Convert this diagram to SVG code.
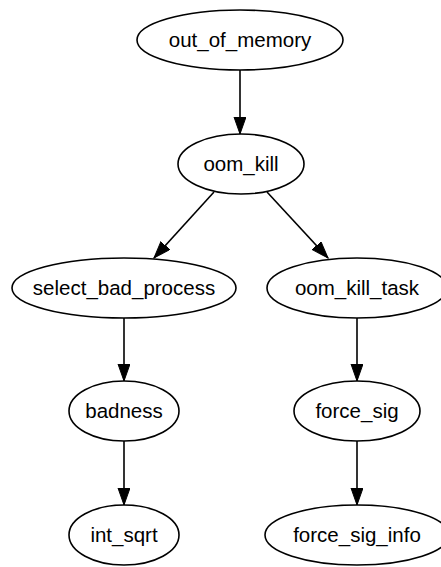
<svg xmlns="http://www.w3.org/2000/svg" width="441" height="567" viewBox="0 0 441 567">
  <defs>
    <style>
      .node ellipse { fill: #ffffff; stroke: #000000; stroke-width: 1.6; }
      .node text { font-family: "Liberation Sans", Arial, Helvetica, sans-serif; font-size: 20.5px; fill: #000000; text-anchor: middle; }
      .edge { fill: none; stroke: #000000; stroke-width: 1.6; marker-end: url(#arrow); }
    </style>
    <marker id="arrow" markerUnits="userSpaceOnUse" markerWidth="18" markerHeight="13" refX="17" refY="6" orient="auto">
      <path d="M0,0 L17,6 L0,12 Z" fill="#000000" stroke="#000000" stroke-width="1"/>
    </marker>
  </defs>
  <rect width="441" height="567" fill="#ffffff"/>

  <!-- call edges -->
  <g id="edges">
    <path class="edge" d="M240,70 L240,134"/>
    <path class="edge" d="M214,192 L154,258"/>
    <path class="edge" d="M267,192 L328,258"/>
    <path class="edge" d="M124,318 L124,381"/>
    <path class="edge" d="M357,318 L357,381"/>
    <path class="edge" d="M124,441 L124,505"/>
    <path class="edge" d="M357,441 L357,505"/>
  </g>

  <g id="out_of_memory" class="node">
    <ellipse cx="240" cy="40" rx="103" ry="30"/>
    <text x="240" y="47">out_of_memory</text>
  </g>
  <g id="oom_kill" class="node">
    <ellipse cx="241" cy="164" rx="63" ry="30"/>
    <text x="241" y="171">oom_kill</text>
  </g>
  <g id="select_bad_process" class="node">
    <ellipse cx="124" cy="288" rx="112" ry="30"/>
    <text x="124" y="295">select_bad_process</text>
  </g>
  <g id="oom_kill_task" class="node">
    <ellipse cx="357" cy="288" rx="90" ry="30"/>
    <text x="357" y="295">oom_kill_task</text>
  </g>
  <g id="badness" class="node">
    <ellipse cx="124" cy="411" rx="55" ry="30"/>
    <text x="124" y="418">badness</text>
  </g>
  <g id="force_sig" class="node">
    <ellipse cx="357" cy="411" rx="63" ry="30"/>
    <text x="357" y="418">force_sig</text>
  </g>
  <g id="int_sqrt" class="node">
    <ellipse cx="124" cy="535" rx="55" ry="30"/>
    <text x="124" y="542">int_sqrt</text>
  </g>
  <g id="force_sig_info" class="node">
    <ellipse cx="357" cy="535" rx="92" ry="30"/>
    <text x="357" y="542">force_sig_info</text>
  </g>
</svg>
